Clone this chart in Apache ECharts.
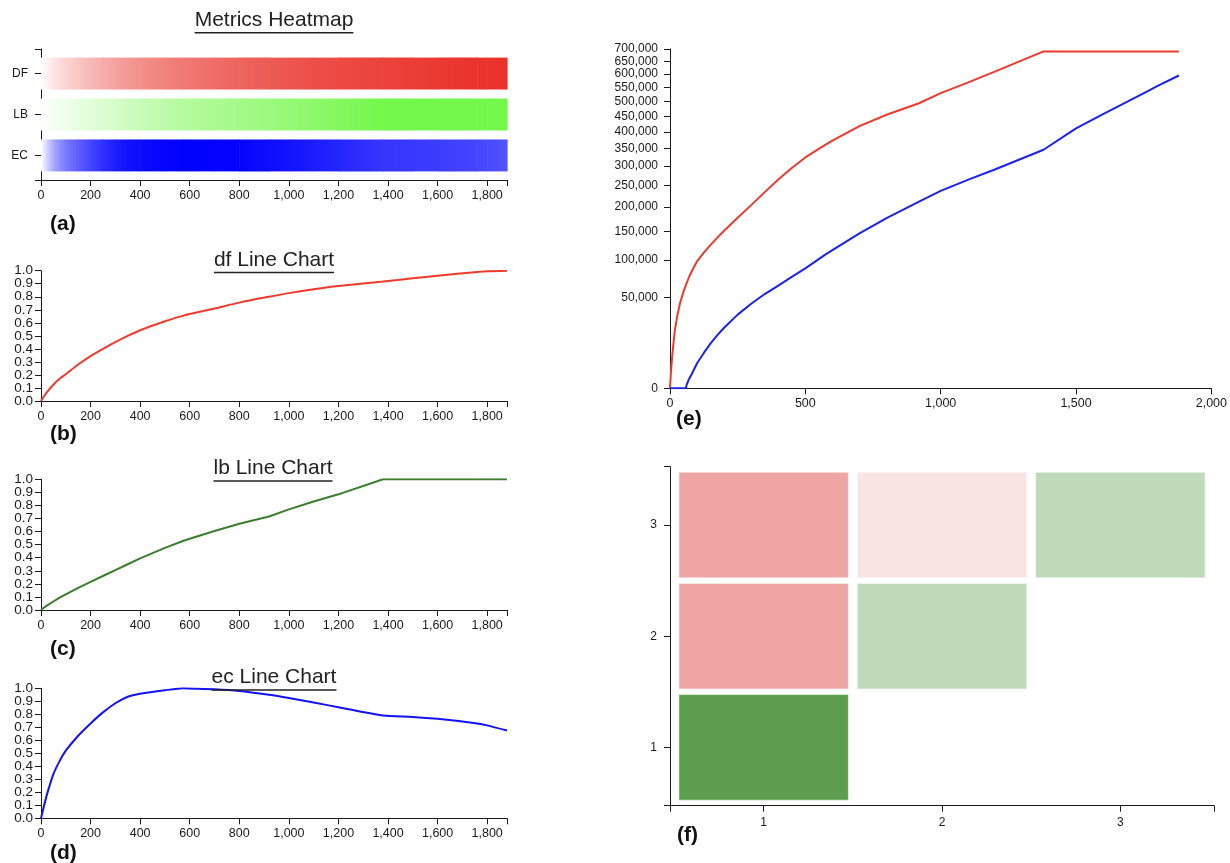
<!DOCTYPE html>
<html><head><meta charset="utf-8">
<script src="https://cdn.jsdelivr.net/npm/echarts@6/dist/echarts.min.js"></script>
<style>html,body{margin:0;padding:0;background:#fff}#c{width:1230px;height:863px}</style>
</head><body><div id="c"></div>
<script>
// ---------- data ----------
const xs     = [0, 10, 25, 50, 75, 100, 150, 200, 250, 300, 350, 400, 500, 575, 600, 700, 800, 920, 1000, 1100, 1200, 1380, 1500, 1600, 1760, 1800, 1880];
const dfVals = [0, 0.03, 0.07, 0.125, 0.17, 0.205, 0.28, 0.345, 0.40, 0.452, 0.50, 0.543, 0.612, 0.655, 0.667, 0.71, 0.755, 0.80, 0.828, 0.857, 0.882, 0.917, 0.942, 0.962, 0.99, 0.996, 1.0];
const lbVals = [0, 0.015, 0.035, 0.065, 0.095, 0.12, 0.17, 0.215, 0.26, 0.305, 0.35, 0.395, 0.475, 0.53, 0.545, 0.605, 0.66, 0.715, 0.77, 0.83, 0.885, 1.0, 1.0, 1.0, 1.0, 1.0, 1.0];
const ecVals = [0, 0.08, 0.19, 0.34, 0.44, 0.52, 0.635, 0.73, 0.815, 0.885, 0.935, 0.958, 0.985, 1.0, 0.998, 0.993, 0.98, 0.95, 0.925, 0.89, 0.855, 0.79, 0.78, 0.765, 0.73, 0.715, 0.675];
const heatRows = ['DF', 'LB', 'EC'];
const lineXTicks = [0, 200, 400, 600, 800, 1000, 1200, 1400, 1600, 1800];
const unitYTicks = [0, 0.1, 0.2, 0.3, 0.4, 0.5, 0.6, 0.7, 0.8, 0.9, 1.0];

const eX    = [0, 3, 6, 10, 18, 27, 37, 48, 59, 61, 70, 80, 100, 125, 150, 175, 200, 250, 300, 350, 400, 450, 500, 575, 600, 700, 800, 920, 1000, 1100, 1200, 1380, 1500, 1600, 1760, 1800, 1880];
const eRed  = [0, 1200, 3800, 8500, 20700, 32000, 43900, 55000, 65000, 67000, 75000, 83000, 98000, 112000, 125000, 138000, 151000, 177000, 204000, 234000, 265000, 295000, 324000, 361000, 373000, 418000, 455000, 494000, 530000, 568000, 610000, 690000, 690000, 690000, 690000, 690000, 690000];
const eBlue = [0, 0, 0, 0, 0, 0, 0, 0, 0, 60, 500, 1200, 3800, 7600, 12300, 17200, 22300, 33000, 43500, 54000, 64000, 75500, 87500, 109000, 116000, 146000, 176000, 212000, 237000, 264000, 291000, 346000, 411000, 457000, 534000, 555000, 595000];
const eXTicks = [0, 500, 1000, 1500, 2000];
const eYTicks = [0, 50000, 100000, 150000, 200000, 250000, 300000, 350000, 400000, 450000, 500000, 550000, 600000, 650000, 700000];

const fX   = [1, 2, 3, 1, 2, 1];
const fY   = [3, 3, 3, 2, 2, 1];
const fVal = [0.4, 0.1, -0.3, 0.4, -0.3, -0.9];
const fTicks = [1, 2, 3];

// ---------- style ----------
const FONT = '"Liberation Sans", Arial, Helvetica, sans-serif';
const AX = '#1a1a1a';
const heatEnds = ['#e9322a', '#74f74b', '#0000fe'];
const heatSeries = [dfVals, lbVals, ecVals];

const chart = echarts.init(document.getElementById('c'), null, {renderer: 'canvas'});

function fmtNum(v) { return Math.round(v).toLocaleString('en-US'); }
function lbl(o) { return Object.assign({fontSize: 12.5, color: AX, fontFamily: FONT, margin: 9, showMinLabel: true, showMaxLabel: true, hideOverlap: false, interval: 0}, o); }

function mkAxis(gridIndex, o) {
  return Object.assign({
    type: 'value', gridIndex,
    axisLine: {show: true, onZero: false, lineStyle: {color: AX, width: 1}},
    splitLine: {show: false}
  }, o);
}
function ticks(arr, extra) { return {show: true, length: 6, lineStyle: {color: AX, width: 1}, customValues: arr.concat(extra || [])}; }

const grids = [
  {left: 41, top: 49, width: 466, height: 131},
  {left: 41, top: 270.7, width: 466, height: 130.3},
  {left: 41, top: 479.3, width: 466, height: 130.7},
  {left: 41, top: 688.3, width: 466, height: 130},
  {left: 670, top: 49, width: 543.3, height: 339.3},
  {left: 670, top: 466.7, width: 544, height: 339}
];

const xAxes = [], yAxes = [];
for (let g = 0; g < 4; g++) {
  xAxes.push(mkAxis(g, {min: 0, max: 1880, axisTick: ticks(lineXTicks, [1880]),
    axisLabel: lbl({customValues: lineXTicks, formatter: fmtNum})}));
}
yAxes.push(mkAxis(0, {min: -0.6, max: 2.6, inverse: true, axisTick: ticks([-0.6, 0, 1, 2, 2.6]),
  axisLabel: lbl({customValues: [0, 1, 2], formatter: v => heatRows[Math.round(v)], fontSize: 12, margin: 13})}));
const evenTicks = unitYTicks.filter((v, i) => i % 2 === 0);
const oddTicks = unitYTicks.filter((v, i) => i % 2 === 1);
for (let g = 1; g < 4; g++) {
  yAxes.push(mkAxis(g, {min: 0, max: 1, axisTick: ticks(unitYTicks),
    axisLabel: lbl({customValues: evenTicks, formatter: v => v.toFixed(1), fontSize: 13.5, margin: 8})}));
}
xAxes.push(mkAxis(4, {min: 0, max: 2000, axisTick: ticks(eXTicks),
  axisLabel: lbl({customValues: eXTicks, formatter: fmtNum})}));
yAxes.push(mkAxis(4, {min: 0, max: Math.sqrt(700000), axisTick: ticks(eYTicks.map(Math.sqrt)),
  axisLabel: lbl({customValues: eYTicks.map(Math.sqrt), formatter: v => fmtNum(v * v), fontSize: 12, margin: 12})}));
xAxes.push(mkAxis(5, {min: 0.475, max: 3.525, axisTick: ticks(fTicks, [0.475, 3.525]),
  axisLabel: lbl({customValues: fTicks, formatter: v => String(Math.round(v)), fontSize: 12, margin: 11})}));
yAxes.push(mkAxis(5, {min: 0.475, max: 3.525, axisTick: ticks(fTicks, [0.475, 3.525]),
  axisLabel: lbl({customValues: fTicks, formatter: v => String(Math.round(v)), fontSize: 12, margin: 13})}));
// second label-only y axes for the odd tick labels of panels b-d (avoids overlap hiding)
for (let g = 1; g < 4; g++) {
  yAxes.push({type: 'value', gridIndex: g, position: 'left', offset: 0, min: 0, max: 1,
    axisLine: {show: false}, axisTick: {show: false}, splitLine: {show: false},
    axisLabel: lbl({customValues: oddTicks, formatter: v => v.toFixed(1), fontSize: 13.5, margin: 8})});
}

// heatmap data: segments between consecutive samples
const heatData = [];
heatSeries.forEach((vals, r) => {
  for (let i = 0; i < xs.length - 1; i++) heatData.push([xs[i], xs[i + 1], r, vals[i], vals[i + 1]]);
});

const series = [
  {
    type: 'custom', xAxisIndex: 0, yAxisIndex: 0, data: heatData, encode: {x: [0, 1], y: 2},
    renderItem: (params, api) => {
      const r = api.value(2), end = heatEnds[r];
      const p0 = api.coord([api.value(0), r - 0.39]);
      const p1 = api.coord([api.value(1), r + 0.39]);
      const c0 = echarts.color.lerp(api.value(3), ['#ffffff', end]);
      const c1 = echarts.color.lerp(api.value(4), ['#ffffff', end]);
      return {type: 'rect', shape: {x: p0[0], y: Math.min(p0[1], p1[1]), width: p1[0] - p0[0] + 0.6, height: Math.abs(p1[1] - p0[1])},
        style: {fill: new echarts.graphic.LinearGradient(0, 0, 1, 0, [{offset: 0, color: c0}, {offset: 1, color: c1}])}};
    }
  },
  {type: 'line', xAxisIndex: 1, yAxisIndex: 1, data: xs.map((x, i) => [x, dfVals[i]]), showSymbol: false, smooth: 0.3, lineStyle: {color: '#ee3b2b', width: 2}},
  {type: 'line', xAxisIndex: 2, yAxisIndex: 2, data: xs.map((x, i) => [x, lbVals[i]]), showSymbol: false, lineStyle: {color: '#3a7d2c', width: 2}},
  {type: 'line', xAxisIndex: 3, yAxisIndex: 3, data: xs.map((x, i) => [x, ecVals[i]]), showSymbol: false, smooth: 0.25, lineStyle: {color: '#1212f5', width: 2}},
  {type: 'line', xAxisIndex: 4, yAxisIndex: 4, data: eX.map((x, i) => [x, Math.sqrt(eRed[i])]), showSymbol: false, lineStyle: {color: '#ee3a2d', width: 2}},
  {type: 'line', xAxisIndex: 4, yAxisIndex: 4, data: eX.map((x, i) => [x, Math.sqrt(eBlue[i])]), showSymbol: false, lineStyle: {color: '#1a22f0', width: 2}},
  {
    type: 'custom', xAxisIndex: 5, yAxisIndex: 5, data: fX.map((x, i) => [x, fY[i], fVal[i]]), encode: {x: 0, y: 1},
    renderItem: (params, api) => {
      const x = api.value(0), y = api.value(1);
      const p0 = api.coord([x - 0.475, y + 0.475]);
      const p1 = api.coord([x + 0.475, y - 0.475]);
      return {type: 'rect', shape: {x: p0[0], y: p0[1], width: p1[0] - p0[0], height: p1[1] - p0[1]},
        style: {fill: api.visual('color'), stroke: 'rgba(255,255,255,0.5)', lineWidth: 1}};
    }
  }
];

// titles & panel labels
const TFONT = '21px ' + FONT;
const ctx = document.createElement('canvas').getContext('2d');
ctx.font = TFONT;
const titles = [
  {text: 'Metrics Heatmap', cx: 274, base: 30.7},
  {text: 'df Line Chart', cx: 274, base: 270.5},
  {text: 'lb Line Chart', cx: 273, base: 479},
  {text: 'ec Line Chart', cx: 274, base: 688}
];
const graphic = [];
titles.forEach(t => {
  const w = ctx.measureText(t.text).width;
  graphic.push({type: 'text', x: t.cx, y: t.base, style: {text: t.text, font: TFONT, fill: '#222', align: 'center', verticalAlign: 'bottom'}, z: 10});
  graphic.push({type: 'line', shape: {x1: t.cx - w / 2, y1: t.base + 2, x2: t.cx + w / 2, y2: t.base + 2}, style: {stroke: '#222', lineWidth: 1.5}, z: 10});
});
const panels = [['(a)', 50, 224], ['(b)', 50, 434], ['(c)', 50, 649], ['(d)', 50, 853], ['(e)', 676, 419], ['(f)', 677, 835]];
panels.forEach(p => graphic.push({type: 'text', x: p[1], y: p[2], style: {text: p[0], font: 'bold 21px ' + FONT, fill: '#111', align: 'left', verticalAlign: 'middle'}, z: 10}));

chart.setOption({
  animation: false,
  backgroundColor: '#fff',
  grid: grids,
  xAxis: xAxes,
  yAxis: yAxes,
  visualMap: [{type: 'piecewise', show: false, seriesIndex: 6, dimension: 2,
    pieces: [{lt: -0.6, color: '#5c9e4d'}, {gte: -0.6, lt: 0, color: '#bedab8'}, {gte: 0, lt: 0.25, color: '#fae3e3'}, {gte: 0.25, color: '#f0a5a5'}]}],
  series,
  graphic
});
</script></body></html>
